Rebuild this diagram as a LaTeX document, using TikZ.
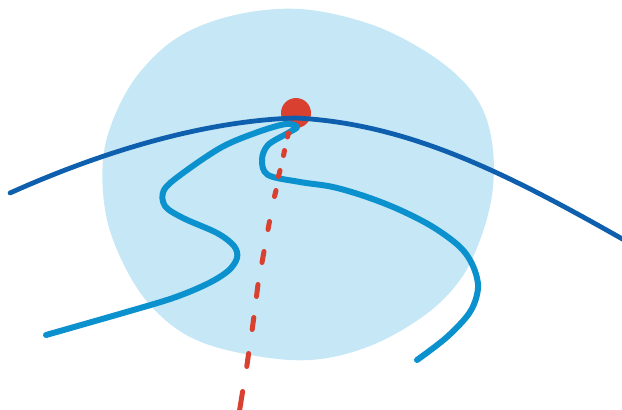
\documentclass[tikz,border=0pt]{standalone}
\definecolor{blobblue}{HTML}{C6E8F6}
\definecolor{darkblue}{HTML}{0E60AE}
\definecolor{midblue}{HTML}{0B92CE}
\definecolor{dotred}{HTML}{D9402F}
\tikzset{
  blob/.style={fill=blobblue, draw=none},
  mainline/.style={draw=darkblue, line width=4.8pt, line cap=round, line join=round},
  wavy/.style={draw=midblue, line width=6pt, line cap=round, line join=round},
  axisdash/.style={draw=dotred, line width=5pt, line cap=round}
}
\begin{document}
\begin{tikzpicture}[x=1pt,y=-1pt]
\useasboundingbox (0,0) rectangle (622,410);
\clip (0,0) rectangle (622,410);
% light blue blob
\fill[blob] plot[smooth cycle, tension=0.6] coordinates {
 (300,9) (367,23) (420,48) (460,78) (483,110) (493,150) (492,195) (480,240)
 (460,280) (425,315) (370,346) (310,360) (245,354) (190,337) (150,305)
 (123,263) (106,215) (103,160) (115,115) (140,72) (180,36) (235,15)};
% red dot
\fill[dotred] (296,113) circle (15);
% dark blue arc
\coordinate (arcL) at (10,193);
\coordinate (arcTop) at (296,118);
\coordinate (arcR) at (640,249);
\draw[mainline] (arcL) .. controls (90,157) and (196,121) .. (arcTop)
  .. controls (416,124) and (520,180.6) .. (arcR);
% medium blue wavy curve
\draw[wavy] plot[smooth, tension=0.55] coordinates {
 (46,335) (123,313) (173,298) (207,284) (228,271) (237,258) (234,246)
 (217,233) (183,218) (165,206) (164,190) (183,173) (222,147) (258,132) (286,124)
 (297,127) (288,133) (268,145) (262,160) (268,175) (300,182) (333,187)
 (367,197) (400,210) (433,227) (460,247) (473,266) (478,288) (470,312) (447,337) (417,360)};
% red dashed axis, dashes drawn one by one (growing with perspective)
\foreach \xa/\ya/\xb/\yb in {
  288.5/133/287.5/137,
  284.5/150.5/283.5/155.5,
  280/170.5/278.5/176.5,
  276/190.5/274.5/196.5,
  269.5/221.5/268/229.5,
  264/251.5/262/262.5,
  258/284.5/256.5/296.5,
  253.8/317.5/252.2/329.5,
  248.6/353.5/246.8/366.5,
  242.6/391.5/239/414}
  \draw[axisdash] (\xa,\ya) -- (\xb,\yb);
\end{tikzpicture}
\end{document}
